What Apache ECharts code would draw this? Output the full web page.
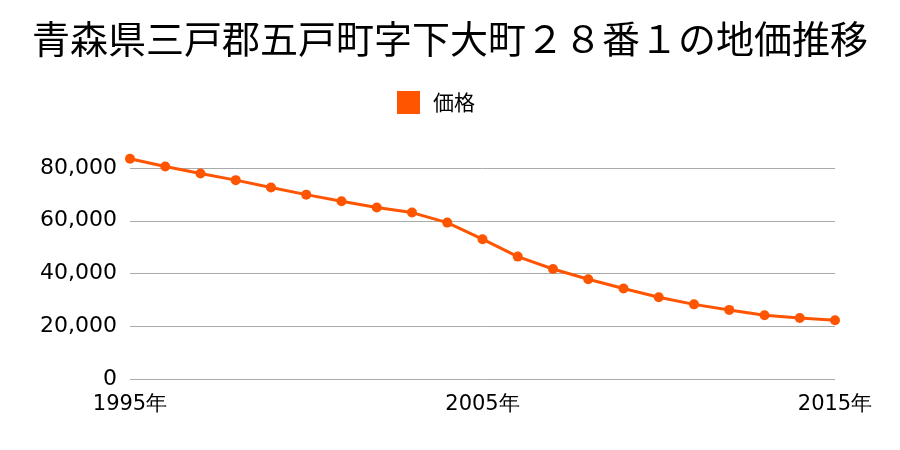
<!DOCTYPE html>
<html>
<head>
<meta charset="utf-8">
<script src="https://cdn.jsdelivr.net/npm/echarts@6/dist/echarts.min.js"></script>
<style>html,body{margin:0;padding:0;background:#fff}#c{width:900px;height:450px}</style>
</head>
<body>
<div id="c"></div>
<script>
const titleText = '青森県三戸郡五戸町字下大町２８番１の地価推移';
const seriesName = '価格';
const years = [1995,1996,1997,1998,1999,2000,2001,2002,2003,2004,2005,2006,2007,2008,2009,2010,2011,2012,2013,2014,2015];
const prices = [83500,80600,77900,75400,72600,69900,67400,65000,63100,59300,53000,46400,41700,37800,34300,31000,28300,26200,24200,23100,22300];
const yTicks = [0,20000,40000,60000,80000];

const chart = echarts.init(document.getElementById('c'), null, {renderer:'canvas'});
chart.setOption({
  backgroundColor:'#ffffff',
  animation:false,
  title:{text:titleText,left:'center',top:15,textStyle:{fontFamily:'Noto Sans CJK JP',fontSize:38,fontWeight:'normal',color:'#000'}},
  legend:{data:[seriesName],left:397,top:91,padding:0,icon:'rect',itemWidth:23,itemHeight:23,
    textStyle:{fontFamily:'Noto Sans CJK JP',fontSize:21,color:'#000',padding:[0,0,0,8]}},
  grid:{left:130,right:65,top:168,bottom:71,containLabel:false},
  xAxis:{type:'value',min:years[0],max:years[years.length-1],interval:10,
    axisLine:{show:false},axisTick:{show:false},splitLine:{show:false},
    axisLabel:{formatter:v=>String(v)+'年',fontFamily:'DejaVu Sans',fontSize:21,color:'#000',margin:15,showMinLabel:true,showMaxLabel:true}},
  yAxis:{type:'value',min:yTicks[0],max:yTicks[yTicks.length-1],interval:20000,
    axisLine:{show:false},axisTick:{show:false},
    splitLine:{lineStyle:{color:'#aaaaaa',width:1}},
    axisLabel:{fontFamily:'DejaVu Sans',fontSize:22,color:'#000',margin:13,
      formatter:v=>v.toLocaleString('en-US')}},
  series:[{name:seriesName,type:'line',clip:false,
    data:years.map((y,i)=>[y,prices[i]]),
    symbol:'circle',symbolSize:10,
    lineStyle:{color:'#ff5500',width:3},
    itemStyle:{color:'#ff5500'}}]
});
</script>
</body>
</html>
